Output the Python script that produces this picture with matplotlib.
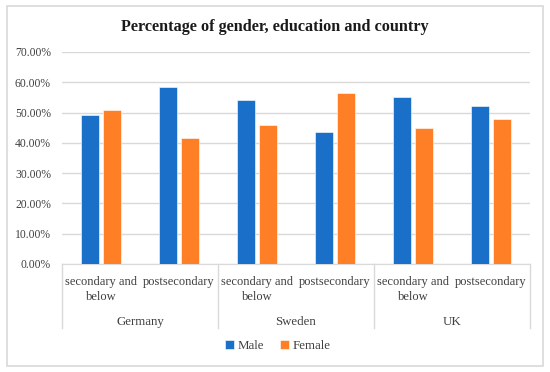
import matplotlib.pyplot as plt
import numpy as np
from matplotlib.patches import Rectangle
from matplotlib.transforms import blended_transform_factory

plt.rcParams['font.family'] = ['Liberation Serif', 'DejaVu Serif']

countries = ['Germany', 'Sweden', 'UK']
levels = ['secondary and\nbelow', 'postsecondary']
male = [49.1, 58.4, 54.0, 43.6, 55.1, 52.1]
female = [50.9, 41.6, 46.0, 56.4, 44.9, 47.9]
yticks = [0, 10, 20, 30, 40, 50, 60, 70]

blue = '#1A70C8'
orange = '#FF7F27'

fig = plt.figure(figsize=(5.5, 3.72), dpi=100)
ax = fig.add_axes([62 / 550, 1 - 264 / 372, 468 / 550, 212 / 372])

# chart border
fig.patches.append(Rectangle((7 / 550, 6 / 372), 536 / 550, 360 / 372,
                             transform=fig.transFigure, fill=False,
                             edgecolor='#D9D9D9', linewidth=1.2))

x = np.arange(len(male))
w = 0.226
gap = 0.064
ax.bar(x - (w + gap) / 2, male, w, color=blue, edgecolor='white', linewidth=0.4, label='Male', zorder=3)
ax.bar(x + (w + gap) / 2, female, w, color=orange, edgecolor='white', linewidth=0.4, label='Female', zorder=3)

ax.set_xlim(-0.5, len(male) - 0.5)
ax.set_ylim(0, 70)
ax.set_yticks(yticks)
ax.set_yticklabels(['%.2f%%' % v for v in yticks], fontsize=8.4, color='#404040')
ax.tick_params(axis='y', length=0, pad=8)
ax.set_xticks([])
ax.grid(axis='y', color='#D9D9D9', linewidth=1, zorder=0)
for s in ['top', 'right', 'left']:
    ax.spines[s].set_visible(False)
ax.spines['bottom'].set_color('#D9D9D9')

# multi-level category axis
tr = blended_transform_factory(ax.transData, ax.transAxes)
for i in range(len(male)):
    ax.text(i, -0.055, levels[i % 2], transform=tr, ha='center', va='top',
            fontsize=9, color='#404040', linespacing=1.35)
for j, c in enumerate(countries):
    ax.text(2 * j + 0.5, -0.272, c, transform=tr, ha='center', va='center',
            fontsize=9.3, color='#404040')
for b in [-0.5, 1.5, 3.5, 5.5]:
    ax.plot([b, b], [0, -0.302], transform=tr, color='#D9D9D9', linewidth=1, clip_on=False)

fig.text(0.5, 1 - 27 / 372, 'Percentage of gender, education and country',
         ha='center', va='center', fontsize=11.7, fontweight='bold', color='#1a1a1a')

fig.legend(loc='center', bbox_to_anchor=(0.505, 1 - 346 / 372), ncol=2, frameon=False,
           fontsize=9.3, handlelength=0.7, handleheight=0.7, handletextpad=0.3,
           columnspacing=1.2, labelcolor='#404040')

fig.savefig('out.png', dpi=100)
